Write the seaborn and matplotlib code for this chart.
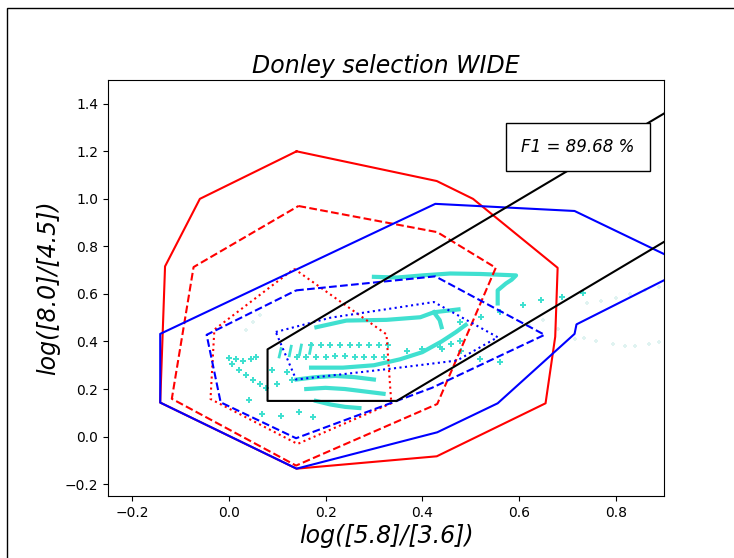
import matplotlib
matplotlib.use("Agg")
import matplotlib.pyplot as plt
import seaborn as sns
import pandas as pd
from matplotlib.patches import Rectangle

# ---------------- data ----------------
# Donley wedge (black)
wedge_x = [1.0, 0.08, 0.08, 0.347, 1.0]
wedge_y = [1.48, 0.367, 0.15, 0.15, 0.94]

# red contours (outer / middle / inner)
red_solid_x = [0.14, 0.43, 0.505, 0.68, 0.675, 0.655, 0.43, 0.14, -0.142, -0.132, -0.06, 0.14]
red_solid_y = [1.20, 1.075, 1.0, 0.71, 0.42, 0.14, -0.083, -0.135, 0.143, 0.716, 1.0, 1.20]
red_dash_x = [0.144, 0.431, 0.552, 0.431, 0.139, -0.118, -0.073, 0.144]
red_dash_y = [0.970, 0.860, 0.710, 0.137, -0.122, 0.159, 0.713, 0.970]
red_dot_x = [0.135, 0.326, 0.336, 0.142, -0.038, -0.03, 0.135]
red_dot_y = [0.706, 0.430, 0.140, -0.031, 0.158, 0.450, 0.706]

# blue contours
blue_solid_x = [1.0, 0.906, 0.715, 0.427, -0.142, -0.142, 0.14, 0.431, 0.556, 0.715, 0.719, 1.0]
blue_solid_y = [0.665, 0.762, 0.949, 0.979, 0.432, 0.143, -0.135, 0.018, 0.140, 0.432, 0.472, 0.76]
blue_dash_x = [0.139, 0.427, 0.653, 0.42, 0.139, -0.017, -0.046, 0.139]
blue_dash_y = [0.615, 0.674, 0.428, 0.205, -0.007, 0.144, 0.428, 0.615]
blue_dot_x = [0.097, 0.21, 0.424, 0.556, 0.472, 0.333, 0.139, 0.097]
blue_dot_y = [0.440, 0.50, 0.566, 0.418, 0.320, 0.285, 0.240, 0.440]

# dense cyan model tracks
track_top_x = [0.30, 0.348, 0.40, 0.458, 0.52, 0.594, 0.585, 0.573, 0.556, 0.556]
track_top_y = [0.672, 0.669, 0.678, 0.686, 0.684, 0.678, 0.66, 0.644, 0.615, 0.56]
track_up_x = [0.181, 0.243, 0.326, 0.396, 0.424, 0.458, 0.475]
track_up_y = [0.460, 0.488, 0.491, 0.502, 0.523, 0.531, 0.535]
spur_x = [0.424, 0.436, 0.44]
spur_y = [0.523, 0.49, 0.46]
track_low_x = [0.17, 0.236, 0.30, 0.354, 0.40, 0.44, 0.47, 0.49]
track_low_y = [0.290, 0.290, 0.300, 0.325, 0.355, 0.400, 0.440, 0.470]
bot1_x = [0.14, 0.18, 0.22, 0.26, 0.30]
bot1_y = [0.240, 0.250, 0.255, 0.250, 0.240]
bot2_x = [0.16, 0.20, 0.24, 0.28, 0.32]
bot2_y = [0.200, 0.205, 0.200, 0.190, 0.180]
bot3_x = [0.18, 0.21, 0.24, 0.27]
bot3_y = [0.150, 0.135, 0.125, 0.120]
tick1_x = [0.104, 0.108]
tick1_y = [0.335, 0.370]
tick2_x = [0.125, 0.129]
tick2_y = [0.340, 0.380]
tick3_x = [0.146, 0.150]
tick3_y = [0.345, 0.385]
tick4_x = [0.167, 0.171]
tick4_y = [0.350, 0.390]

# sparse cyan points
pts_x = [0.17, 0.19, 0.21, 0.23, 0.25, 0.27, 0.29, 0.31, 0.33,
         0.14, 0.16, 0.18, 0.20, 0.22, 0.24, 0.26, 0.28, 0.30, 0.32,
         0.368, 0.40, 0.437, 0.46, 0.479,
         0.479, 0.521, 0.56, 0.608, 0.646, 0.688, 0.733,
         0.44, 0.48, 0.52, 0.56,
         0.007, 0.02, 0.035, 0.05, 0.065, 0.077, 0.042, 0.069, 0.108, 0.146, 0.173,
         0.0, 0.015, 0.03, 0.045, 0.056, 0.09, 0.12, 0.10, 0.13]
pts_y = [0.385, 0.385, 0.386, 0.386, 0.387, 0.387, 0.386, 0.385, 0.384,
         0.335, 0.335, 0.336, 0.336, 0.337, 0.337, 0.336, 0.335, 0.334, 0.333,
         0.362, 0.370, 0.376, 0.390, 0.400,
         0.481, 0.502, 0.525, 0.552, 0.573, 0.587, 0.605,
         0.370, 0.360, 0.328, 0.313,
         0.307, 0.280, 0.260, 0.240, 0.220, 0.206, 0.152, 0.097, 0.088, 0.102, 0.081,
         0.330, 0.325, 0.320, 0.328, 0.334, 0.28, 0.27, 0.22, 0.24]

faint_x = [0.74, 0.77, 0.80, 0.83, 0.86, 0.89,
           0.735, 0.76, 0.795, 0.82, 0.84, 0.868, 0.889,
           0.68, 0.715, 0.62, 0.65, 0.035, 0.05, 0.065]
faint_y = [0.560, 0.570, 0.585, 0.600, 0.615, 0.630,
           0.413, 0.404, 0.390, 0.383, 0.383, 0.390, 0.397,
           0.453, 0.411, 0.47, 0.49, 0.45, 0.48, 0.51]

f1_text = "F1 = 89.68 %"
title_text = "Donley selection WIDE"
xlabel_text = "log([5.8]/[3.6])"
ylabel_text = "log([8.0]/[4.5])"

# ---------------- figure ----------------
fig = plt.figure(figsize=(7.34, 5.58), dpi=100)
ax = fig.add_axes([108 / 734, 62 / 558, 556 / 734, 416 / 558])

cyan = "#40E0D0"

def path(x, y, **kw):
    df = pd.DataFrame({"x": x, "y": y})
    sns.lineplot(data=df, x="x", y="y", sort=False, estimator=None, ax=ax, **kw)

thick_tracks = [(track_top_x, track_top_y), (track_up_x, track_up_y), (spur_x, spur_y),
                (track_low_x, track_low_y), (bot1_x, bot1_y), (bot2_x, bot2_y),
                (bot3_x, bot3_y)]
for tx, ty in thick_tracks:
    path(tx, ty, color=cyan, linewidth=3.0, zorder=1)
for tx, ty in [(tick1_x, tick1_y), (tick2_x, tick2_y), (tick3_x, tick3_y), (tick4_x, tick4_y)]:
    path(tx, ty, color=cyan, linewidth=2.0, zorder=1)

sns.scatterplot(x=pts_x, y=pts_y, color=cyan, marker="P", s=14, linewidth=0, ax=ax, zorder=1)
sns.scatterplot(x=faint_x, y=faint_y, color="#9ad9d2", marker="P", s=10, linewidth=0,
                alpha=0.3, ax=ax, zorder=1)

lw = 1.5
path(red_solid_x, red_solid_y, color="red", linewidth=lw, zorder=3)
path(red_dash_x, red_dash_y, color="red", linewidth=lw, linestyle="--", zorder=3)
path(red_dot_x, red_dot_y, color="red", linewidth=lw, linestyle=":", zorder=3)
path(blue_solid_x, blue_solid_y, color="blue", linewidth=lw, zorder=3)
path(blue_dash_x, blue_dash_y, color="blue", linewidth=lw, linestyle="--", zorder=3)
path(blue_dot_x, blue_dot_y, color="blue", linewidth=lw, linestyle=":", zorder=3)
path(wedge_x, wedge_y, color="black", linewidth=lw, zorder=4)

ax.set_xlim(-0.25, 0.9)
ax.set_ylim(-0.25, 1.5)
ax.set_xticks([-0.2, 0.0, 0.2, 0.4, 0.6, 0.8])
ax.set_yticks([-0.2, 0.0, 0.2, 0.4, 0.6, 0.8, 1.0, 1.2, 1.4])
ax.set_title(title_text, fontsize=17, style="italic", pad=5)
ax.set_xlabel(xlabel_text, fontsize=17, style="italic", labelpad=3)
ax.set_ylabel(ylabel_text, fontsize=17, style="italic", labelpad=3)

ax.text(0.845, 0.839, f1_text, transform=ax.transAxes, ha="center", va="center",
        fontsize=12, style="italic", zorder=10,
        bbox=dict(boxstyle="square,pad=0.9", facecolor="white", edgecolor="black", linewidth=1))

# figure frame (partially visible in the reference crop)
fig.patches.append(Rectangle((7 / 734, -1.0), 2.0, 1.0 + 1 - 8 / 558, transform=fig.transFigure,
                             fill=False, edgecolor="black", linewidth=1.0))

fig.savefig("out.png", dpi=100)
